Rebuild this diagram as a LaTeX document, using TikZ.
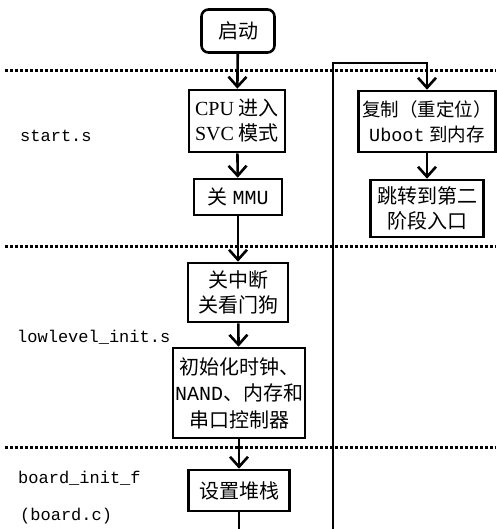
\documentclass[tikz,border=0pt]{standalone}
\usepackage{fontspec}
\setmainfont{Liberation Serif}
\setmonofont{Liberation Mono}
\newfontfamily\cjk{Noto Sans CJK SC}
\usetikzlibrary{arrows.meta}
\begin{document}
\begin{tikzpicture}[x=1pt,y=-1pt,
  box/.style={draw, line width=2.6pt, inner sep=0pt, align=center,
    font=\fontsize{20}{25}\selectfont},
  flow/.style={line width=2.6pt, -{Straight Barb[length=10pt,width=18pt]}},
  plain/.style={line width=2.6pt},
  sep/.style={line width=3pt, dash pattern=on 3pt off 2pt},
  lbl/.style={anchor=west, inner sep=0pt, font=\ttfamily\fontsize{17}{20}\selectfont}]
\useasboundingbox (0,0) rectangle (496,529);
% separators
\draw[sep] (5,71) -- (496,71);
\draw[sep] (5,246) -- (496,246);
\draw[sep] (5,447) -- (496,447);
% left labels
\node[lbl] (l1) at (20,136) {start.s};
\node[lbl] (l2) at (17,337) {lowlevel\_init.s};
\node[lbl] (l3) at (18,478) {board\_init\_f};
\node[lbl] (l4) at (20,516) {(board.c)};
% center column
\node[box, rounded corners=7pt, minimum width=73pt, minimum height=43pt] (start) at (238,31) {\cjk 启动};
\node[box, minimum width=96pt, minimum height=62pt] (cpu) at (237,121) {CPU {\cjk 进入}\\SVC {\cjk 模式}};
\node[box, minimum width=88pt, minimum height=36pt] (mmu) at (238,197) {{\cjk 关} {\ttfamily MMU}};
\node[box, minimum width=100pt, minimum height=59pt] (irq) at (238,292.5) {\cjk 关中断\\\cjk 关看门狗};
\node[box, minimum width=132pt, minimum height=90pt, font=\fontsize{20}{26.5}\selectfont] (init) at (239,393) {\cjk 初始化时钟、\\{\ttfamily NAND}{\cjk 、内存和}\\\cjk 串口控制器};
\node[box, minimum width=101pt, minimum height=41pt] (stack) at (239,490.5) {\cjk 设置堆栈};
\coordinate (bot) at (239,529);
% right column
\node[box, minimum width=137pt, minimum height=61pt, font=\fontsize{18.5}{25}\selectfont] (copy) at (427,121.5) {\cjk 复制（重定位）\\{\ttfamily Uboot} {\cjk 到内存}};
\node[box, minimum width=113pt, minimum height=57pt] (jump) at (427,208.5) {\cjk 跳转到第二\\\cjk 阶段入口};
\coordinate (rb) at (333,529);
\coordinate (rt) at (333,63);
% connectors
\draw[flow] (start) -- (cpu);
\draw[flow] (cpu) -- (mmu);
\draw[flow] (mmu) -- (irq);
\draw[flow] (irq) -- (init);
\draw[flow] (init) -- (stack);
\draw[plain] (stack) -- (bot);
\draw[flow] (copy) -- (jump);
\draw[flow] (rb) -- (rt) -| (copy.north);
\end{tikzpicture}
\end{document}
